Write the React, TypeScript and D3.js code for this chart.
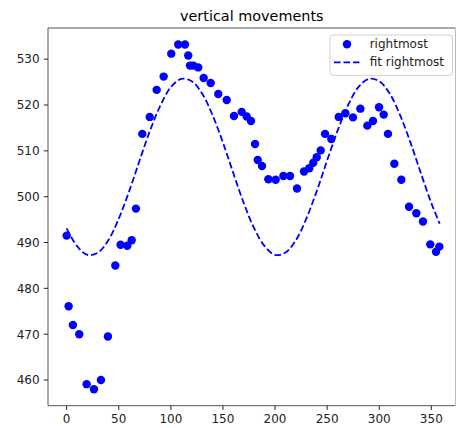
import React from "react";
import * as d3 from "d3";

// Rightmost-point vertical position per angle (degrees)
const angles = [
  0, 1.9, 6, 12.1, 19.2, 26.2, 32.9, 39.6, 46.7, 51.8, 58.2, 62.4, 66.5, 72.6,
  79.7, 86.4, 93.1, 100.4, 107.1, 113.6, 116.7, 118.4, 121.5, 126.3, 131.5,
  138.2, 145.5, 153.6, 160.6, 168.0, 172.8, 176.9, 180.8, 183.4, 187.5, 193.6,
  200.6, 208, 214.4, 221.1, 227.8, 232.9, 236.7, 240, 243.8, 248, 254, 261.1,
  267.5, 274.8, 281.9, 288.6, 294, 299.8, 304.3, 308.4, 314.5, 321.2, 328.6,
  335.6, 342, 349, 354.5, 357.7,
];
const rightmost = [
  491.5, 476.1, 472.0, 470.0, 459.1, 458.0, 460.0, 469.5, 485.0, 489.5, 489.3,
  490.5, 497.4, 513.7, 517.4, 523.3, 526.2, 531.2, 533.2, 533.2, 530.8, 528.6,
  528.6, 528.2, 525.9, 524.8, 522.4, 521.1, 517.6, 518.5, 517.5, 516.5, 511.5,
  508.0, 506.7, 503.8, 503.7, 504.5, 504.5, 501.8, 505.5, 506.2, 507.4, 508.6,
  510.1, 513.7, 512.6, 517.4, 518.2, 517.3, 519.2, 515.5, 516.5, 519.5, 517.9,
  513.7, 507.2, 503.7, 497.8, 496.4, 494.6, 489.6, 488.0, 489.1,
];

// Fitted curve, sampled along the angle axis
const fitAngles = [
  0, 10, 20, 30, 40, 50, 60, 70, 80, 90, 100, 110, 120, 130, 140, 150, 160,
  170, 180, 190, 200, 210, 220, 230, 240, 250, 260, 270, 280, 290, 300, 310,
  320, 330, 340, 350, 358,
];
const fitRightmost = [
  493.1, 489.2, 487.3, 487.8, 490.5, 495.2, 501.2, 507.9, 514.4, 519.9, 523.9,
  525.7, 525.2, 522.5, 517.8, 511.8, 505.1, 498.6, 493.1, 489.2, 487.3, 487.8,
  490.5, 495.2, 501.2, 507.9, 514.4, 519.9, 523.9, 525.7, 525.2, 522.5, 517.8,
  511.8, 505.1, 498.6, 494.1,
];

const xTicks = [0, 50, 100, 150, 200, 250, 300, 350];
const yTicks = [460, 470, 480, 490, 500, 510, 520, 530];

const W = 458;
const H = 428;
const left = 48;
const right = 455.5;
const top = 28;
const bottom = 405.7;
const blue = "#0000ff";
const font = "'DejaVu Sans', sans-serif";

export default function App() {
  const x = d3.scaleLinear().domain([-17.9, 373.2]).range([left, right]);
  const y = d3.scaleLinear().domain([454.4, 536.8]).range([bottom, top]);

  const fitLine = d3
    .line<number>()
    .x((_, i) => x(fitAngles[i]))
    .y((d) => y(d))
    .curve(d3.curveCatmullRom.alpha(0.5));

  const tickColor = "#222";

  return (
    <div style={{ position: "fixed", left: 0, top: 0 }}>
      <svg width={W} height={H} style={{ display: "block", background: "#fff" }}>
        <rect x={0} y={0} width={W} height={H} fill="#fff" />
        <defs>
          <clipPath id="plotArea">
            <rect x={left} y={top} width={right - left} height={bottom - top} />
          </clipPath>
        </defs>

        <g clipPath="url(#plotArea)">
          {rightmost.map((v, i) => (
            <circle key={i} cx={x(angles[i])} cy={y(v)} r={4.2} fill={blue} />
          ))}
          <path
            d={fitLine(fitRightmost) ?? ""}
            fill="none"
            stroke={blue}
            strokeWidth={1.8}
            strokeDasharray="6.6,2.9"
          />
        </g>

        {/* spines */}
        <line x1={left} x2={right} y1={top} y2={top} stroke="#555" strokeWidth={1} />
        <line x1={left} x2={right} y1={bottom} y2={bottom} stroke="#555" strokeWidth={1} />
        <line x1={left} x2={left} y1={top} y2={bottom} stroke="#555" strokeWidth={1} />
        <line x1={right} x2={right} y1={top} y2={bottom} stroke="#bbb" strokeWidth={1} />

        {/* x axis */}
        {xTicks.map((t) => (
          <g key={t} transform={`translate(${x(t)},${bottom})`}>
            <line y1={0} y2={4.2} stroke={tickColor} strokeWidth={1} />
            <text
              y={17.5}
              textAnchor="middle"
              fontFamily={font}
              fontSize={12}
              fill={tickColor}
            >
              {t}
            </text>
          </g>
        ))}

        {/* y axis */}
        {yTicks.map((t) => (
          <g key={t} transform={`translate(${left},${y(t)})`}>
            <line x1={0} x2={-4.2} stroke={tickColor} strokeWidth={1} />
            <text
              x={-8.4}
              dy="0.36em"
              textAnchor="end"
              fontFamily={font}
              fontSize={12}
              fill={tickColor}
            >
              {t}
            </text>
          </g>
        ))}

        <text
          x={(left + right) / 2}
          y={20.5}
          textAnchor="middle"
          fontFamily={font}
          fontSize={14.4}
          fill="#000"
        >
          vertical movements
        </text>

        {/* legend */}
        <g>
          <rect
            x={330}
            y={35}
            width={122.5}
            height={40.3}
            rx={3}
            fill="#fff"
            fillOpacity={0.8}
            stroke="#d0d0d0"
            strokeWidth={1}
          />
          <circle cx={347} cy={44.3} r={4.2} fill={blue} />
          <text x={369.7} y={48.3} fontFamily={font} fontSize={12} fill="#222">
            rightmost
          </text>
          <line
            x1={334}
            x2={359.5}
            y1={62.3}
            y2={62.3}
            stroke={blue}
            strokeWidth={1.8}
            strokeDasharray="6.6,2.9"
          />
          <text x={369.7} y={66.3} fontFamily={font} fontSize={12} fill="#222">
            fit rightmost
          </text>
        </g>
      </svg>
    </div>
  );
}
